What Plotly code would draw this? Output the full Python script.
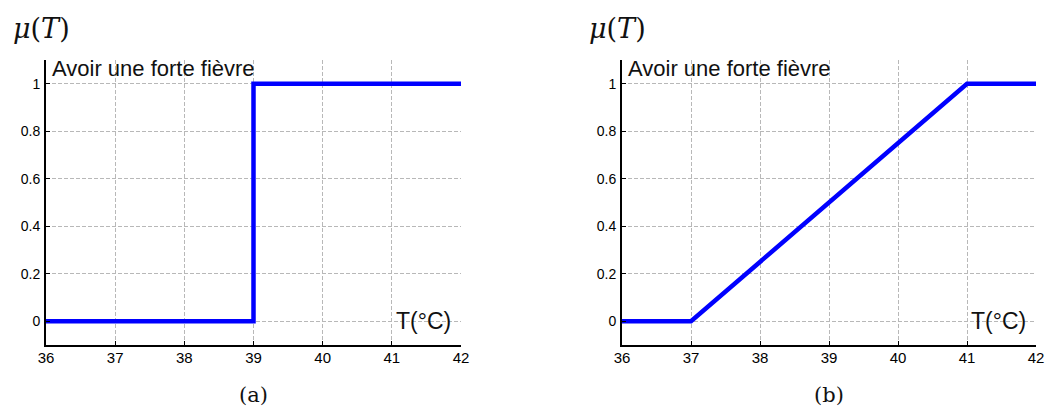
import plotly.graph_objects as go

# Data
temp_a = [36, 39, 39, 42]
mu_a = [0, 0, 1, 1]
temp_b = [36, 37, 41, 42]
mu_b = [0, 0, 1, 1]
x_ticks = [36, 37, 38, 39, 40, 41, 42]
y_ticks = [0, 0.2, 0.4, 0.6, 0.8, 1]
y_tick_labels = ["0", "0.2", "0.4", "0.6", "0.8", "1"]
title_text = "Avoir une forte fièvre"
x_label = "T(°C)"
y_label = "<i>μ</i>(<i>T</i>)"
panel_labels = ["(a)", "(b)"]

W, H = 1050, 410
fig = go.Figure()
fig.add_trace(go.Scatter(x=temp_a, y=mu_a, mode="lines",
                         line=dict(color="#0000ff", width=4.5), xaxis="x", yaxis="y",
                         showlegend=False, hoverinfo="skip"))
fig.add_trace(go.Scatter(x=temp_b, y=mu_b, mode="lines",
                         line=dict(color="#0000ff", width=4.5), xaxis="x2", yaxis="y2",
                         showlegend=False, hoverinfo="skip"))

ydom = [1 - 345 / H, 1 - 60 / H]
xdoms = [[46 / W, 461 / W], [622 / W, 1036 / W]]

common_x = dict(range=[36, 42], tickvals=x_ticks, showgrid=True,
                gridcolor="#b8b8b8", griddash="4px,2px", gridwidth=1,
                showline=True, linecolor="black", linewidth=2,
                ticks="inside", ticklen=4, tickcolor="black",
                tickfont=dict(family="Liberation Sans", size=15, color="#000"),
                automargin=False, ticklabelstandoff=-2,
                zeroline=False, fixedrange=True)
common_y = dict(range=[-0.1, 1.1], tickvals=y_ticks, ticktext=y_tick_labels,
                showgrid=True, gridcolor="#b8b8b8", griddash="4px,2px", gridwidth=1,
                showline=True, linecolor="black", linewidth=2,
                ticks="inside", ticklen=4, tickcolor="black",
                tickfont=dict(family="Liberation Sans", size=14, color="#000"),
                automargin=False, ticklabelstandoff=1,
                zeroline=False, domain=ydom, fixedrange=True)

fig.update_layout(
    width=W, height=H, margin=dict(l=0, r=0, t=0, b=0, autoexpand=False),
    paper_bgcolor="white", plot_bgcolor="white",
    xaxis=dict(domain=xdoms[0], anchor="y", **common_x),
    yaxis=dict(anchor="x", **common_y),
    xaxis2=dict(domain=xdoms[1], anchor="y2", **common_x),
    yaxis2=dict(anchor="x2", **common_y),
)

annots = []
for i, (xr, yr) in enumerate([("x", "y"), ("x2", "y2")]):
    annots.append(dict(xref=xr + " domain", yref=yr + " domain", x=0.01, y=1.02,
                       xanchor="left", yanchor="top", showarrow=False,
                       text=title_text,
                       font=dict(family="Liberation Sans", size=22, color="#111")))
    annots.append(dict(xref=xr, yref=yr, x=41.89, y=0, xanchor="right", yanchor="middle",
                       showarrow=False, text=x_label,
                       font=dict(family="Liberation Sans", size=23, color="#111")))
    annots.append(dict(xref="paper", yref="paper",
                       x=(xdoms[i][0] - 35 / W), y=1 - 29 / H,
                       xanchor="left", yanchor="middle", showarrow=False,
                       text=y_label,
                       font=dict(family="DejaVu Serif", size=27, color="#111")))
    annots.append(dict(xref="paper", yref="paper",
                       x=(xdoms[i][0] + xdoms[i][1]) / 2, y=1 - 395 / H,
                       xanchor="center", yanchor="middle", showarrow=False,
                       text=panel_labels[i],
                       font=dict(family="DejaVu Serif", size=21, color="#111")))
fig.update_layout(annotations=annots)

fig.write_html("out.html", config={"displayModeBar": False},
               post_script="document.body.style.margin='0';")
